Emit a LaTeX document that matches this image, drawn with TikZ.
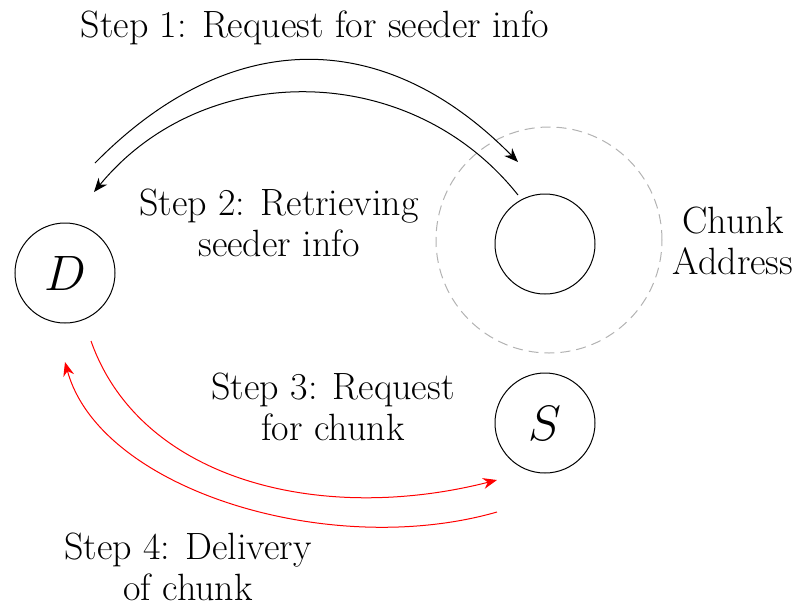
\documentclass[tikz,border=0pt]{standalone}
\usetikzlibrary{arrows.meta}
\begin{document}
\begin{tikzpicture}[x=0.5pt,y=-0.5pt,
  lbl/.style={font=\fontsize{19}{20.5}\selectfont, align=center, inner sep=0pt},
  peer/.style={draw, circle, line width=0.5pt, inner sep=0pt, minimum size=50pt, font=\fontsize{30}{34}\selectfont},
  ring/.style={draw=black!30, circle, line width=0.5pt, dash pattern=on 5pt off 3pt, inner sep=0pt, minimum size=113pt},
  conn/.style={line width=0.5pt, -{Stealth[length=7pt,width=5.5pt]}},
  redconn/.style={conn, red}]
\useasboundingbox (0,0) rectangle (794,607);
\node[ring] (R) at (549,240) {};
\node[peer] (D) at (65,273) {$D$};
\node[peer] (C) at (545,244) {};
\node[peer] (S) at (545,423) {$S$};
\node[lbl] (CA) at (733,241) {Chunk\\Address};
\node[lbl] (L1) at (315,28) {Step 1: Request for seeder info};
\node[lbl] (L2) at (279,223) {Step 2: Retrieving\\seeder info};
\node[lbl] (L3) at (333,407) {Step 3: Request\\for chunk};
\node[lbl] (L4) at (188,567) {Step 4: Delivery\\of chunk};
\coordinate (a1) at (95,163);
\coordinate (b1) at (518,162);
\coordinate (a2) at (518,195);
\coordinate (b2) at (94,192);
\coordinate (a3) at (91,341);
\coordinate (b3) at (497,480);
\coordinate (a4) at (497,512);
\coordinate (b4) at (65,362);
\draw[conn] (a1) .. controls (230,26) and (384,26) .. (b1);
\draw[conn] (a2) .. controls (410,59) and (203,59) .. (b2);
\draw[redconn] (a3) .. controls (140,480) and (320,525) .. (b3);
\draw[redconn] (a4) .. controls (330,560) and (100,490) .. (b4);
\end{tikzpicture}
\end{document}
